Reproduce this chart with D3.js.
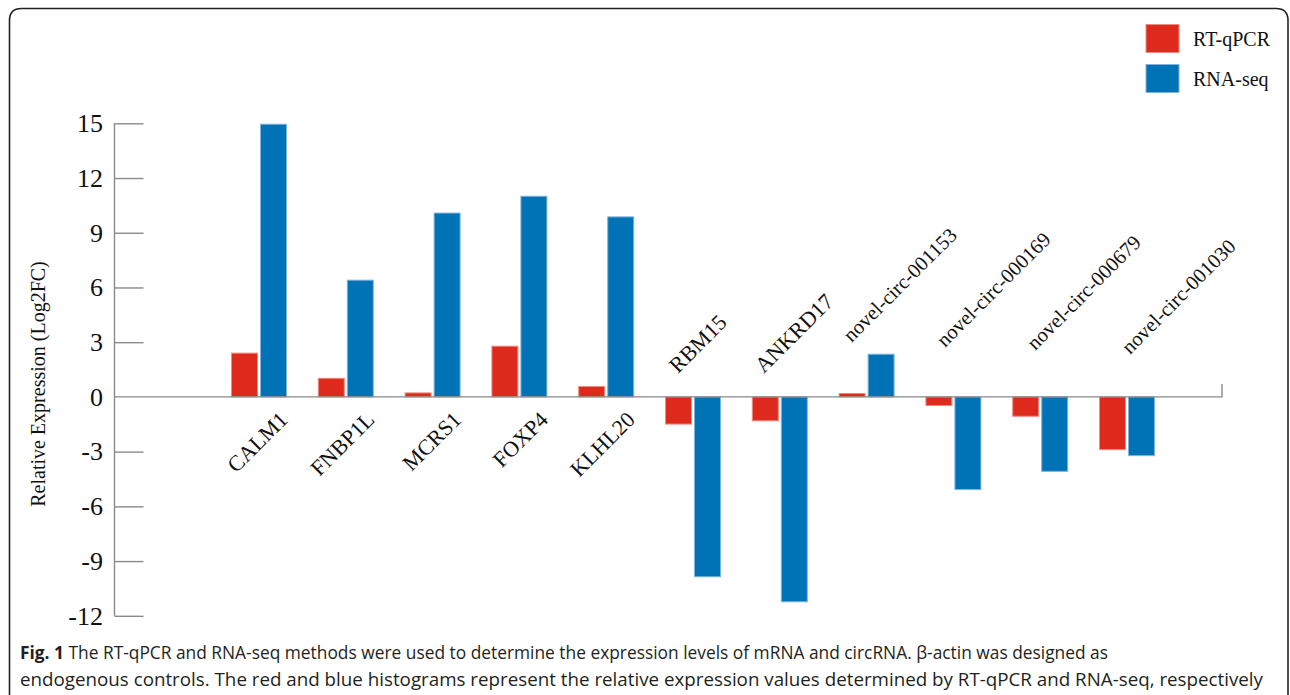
<!DOCTYPE html>
<html>
<head>
<meta charset="utf-8">
<script src="https://cdn.jsdelivr.net/npm/d3@7/dist/d3.min.js"></script>
<style>
  html, body { margin: 0; padding: 0; background: #fff; }
  svg { display: block; }
</style>
</head>
<body>
<svg id="chart" width="1290" height="695"></svg>
<script>
// Genes / circRNAs measured
const categories = ["CALM1", "FNBP1L", "MCRS1", "FOXP4", "KLHL20", "RBM15", "ANKRD17",
  "novel-circ-001153", "novel-circ-000169", "novel-circ-000679", "novel-circ-001030"];
// Log2 fold change per method
const seriesNames = ["RT-qPCR", "RNA-seq"];
const rtqpcr = [2.4, 1.02, 0.22, 2.78, 0.57, -1.49, -1.31, 0.19, -0.47, -1.06, -2.89];
const rnaseq = [14.95, 6.4, 10.08, 11.0, 9.87, -9.86, -11.23, 2.34, -5.08, -4.08, -3.22];
const yTicks = [-12, -9, -6, -3, 0, 3, 6, 9, 12, 15];
const captionBold = "Fig. 1";
const captionLine1 = " The RT-qPCR and RNA-seq methods were used to determine the expression levels of mRNA and circRNA. \u03B2-actin was designed as";
const captionLine2 = "endogenous controls. The red and blue histograms represent the relative expression values determined by RT-qPCR and RNA-seq, respectively";

const colors = { "RT-qPCR": "#de2a1c", "RNA-seq": "#0072b6" };
const edge = { "RT-qPCR": "#f08a80", "RNA-seq": "#7fb4dc" };
const serif = "'Liberation Serif', 'Times New Roman', serif";

const rows = categories.map((c, i) => ({ cat: c, values: [
  { key: seriesNames[0], v: rtqpcr[i] },
  { key: seriesNames[1], v: rnaseq[i] }
]}));

const svg = d3.select("#chart");

// Rounded frame around the figure
svg.append("path")
  .attr("d", "M9.5,695 L9.5,20.5 Q9.5,8.5 21.5,8.5 L1276,8.5 Q1288,8.5 1288,20.5 L1288,695")
  .attr("fill", "none").attr("stroke", "#222").attr("stroke-width", 1.6);

const axisX = 114.5, axisEnd = 1222;
const y = d3.scaleLinear().domain([-12, 15]).range([615.8, 123.3]);
const x0 = d3.scaleBand().domain(categories).range([215.6, 1170.4])
  .paddingInner(0.355).paddingOuter(0.1775);
const x1 = d3.scaleBand().domain(seriesNames).range([0, x0.bandwidth()]).paddingInner(0.07);

// Y axis: ticks point inward
const yAxis = d3.axisRight(y).tickValues(yTicks).tickSize(29).tickFormat("");
const gy = svg.append("g").attr("transform", `translate(${axisX},0)`).call(yAxis);
gy.select(".domain").remove();
gy.selectAll(".tick line").attr("stroke", "#8a8a8a").attr("stroke-width", 1.4);
gy.selectAll(".tick").filter(d => d === 0).select("line").remove();
svg.append("line").attr("x1", axisX).attr("x2", axisX)
  .attr("y1", y(15)).attr("y2", y(-12)).attr("stroke", "#8a8a8a").attr("stroke-width", 1.4);

// Tick labels
svg.append("g").selectAll("text").data(yTicks).join("text")
  .attr("x", 103).attr("y", d => y(d)).attr("dy", "0.34em")
  .attr("text-anchor", "end")
  .style("font-family", serif).style("font-size", "26px").attr("fill", "#111")
  .text(d => d);

// Y title
svg.append("text")
  .attr("transform", `translate(45,384) rotate(-90)`)
  .attr("text-anchor", "middle")
  .style("font-family", serif).style("font-size", "20px").attr("fill", "#111")
  .text("Relative Expression (Log2FC)");

// Bars
const groups = svg.append("g").selectAll("g").data(rows).join("g")
  .attr("transform", d => `translate(${x0(d.cat)},0)`);
groups.selectAll("rect").data(d => d.values).join("rect")
  .attr("x", d => x1(d.key) + 0.5)
  .attr("width", x1.bandwidth() - 1)
  .attr("y", d => Math.min(y(d.v), y(0)))
  .attr("height", d => Math.abs(y(d.v) - y(0)))
  .attr("fill", d => colors[d.key])
  .attr("stroke", d => edge[d.key]).attr("stroke-width", 1);

// Zero baseline with end mark
svg.append("path")
  .attr("d", `M${axisX},${y(0)} L${axisEnd},${y(0)} L${axisEnd},${y(0) - 13}`)
  .attr("fill", "none").attr("stroke", "#8a8a8a").attr("stroke-width", 1.4);

// Category labels (-45 deg); upregulated genes below the baseline, the rest above
const labelLayout = {
  "CALM1": ["end", 30, 24, 22], "FNBP1L": ["end", 30, 24, 22], "MCRS1": ["end", 30, 24, 22],
  "FOXP4": ["end", 30, 24, 22], "KLHL20": ["end", 30, 24, 22],
  "RBM15": ["start", -15, -23, 22], "ANKRD17": ["start", -16, -23, 22],
  "novel-circ-001153": ["start", -15, -54, 20.5], "novel-circ-000169": ["start", -8.5, -49, 20.5],
  "novel-circ-000679": ["start", -5, -46, 20.5], "novel-circ-001030": ["start", 3, -42, 20.5]
};
svg.append("g").selectAll("text").data(categories).join("text")
  .attr("transform", d => {
    const cx = x0(d) + x0.bandwidth() / 2;
    const [, dx, dy] = labelLayout[d];
    return `translate(${cx + dx},${y(0) + dy}) rotate(-45)`;
  })
  .attr("text-anchor", d => labelLayout[d][0])
  .style("font-family", serif).style("font-size", d => labelLayout[d][3] + "px").attr("fill", "#111")
  .text(d => d);

// Legend
const legend = svg.append("g").selectAll("g").data(seriesNames).join("g")
  .attr("transform", (d, i) => `translate(1146,${24.5 + i * 40})`);
legend.append("rect").attr("width", 33).attr("height", 28)
  .attr("fill", d => colors[d]).attr("stroke", d => edge[d]).attr("stroke-width", 1);
legend.append("text").attr("x", 47).attr("y", 21)
  .style("font-family", serif).style("font-size", "20px").attr("fill", "#111")
  .text(d => d);

// Caption
const cap = svg.append("g").style("font-family", "'Open Sans', 'Noto Sans', sans-serif")
  .style("font-size", "18.5px").attr("fill", "#231f20");
const l1 = cap.append("text").attr("x", 20).attr("y", 659)
  .attr("textLength", 1088).attr("lengthAdjust", "spacingAndGlyphs");
l1.append("tspan").style("font-weight", "bold").text(captionBold);
l1.append("tspan").text(captionLine1);
cap.append("text").attr("x", 20).attr("y", 686)
  .attr("textLength", 1243).attr("lengthAdjust", "spacingAndGlyphs")
  .text(captionLine2);
</script>
</body>
</html>
